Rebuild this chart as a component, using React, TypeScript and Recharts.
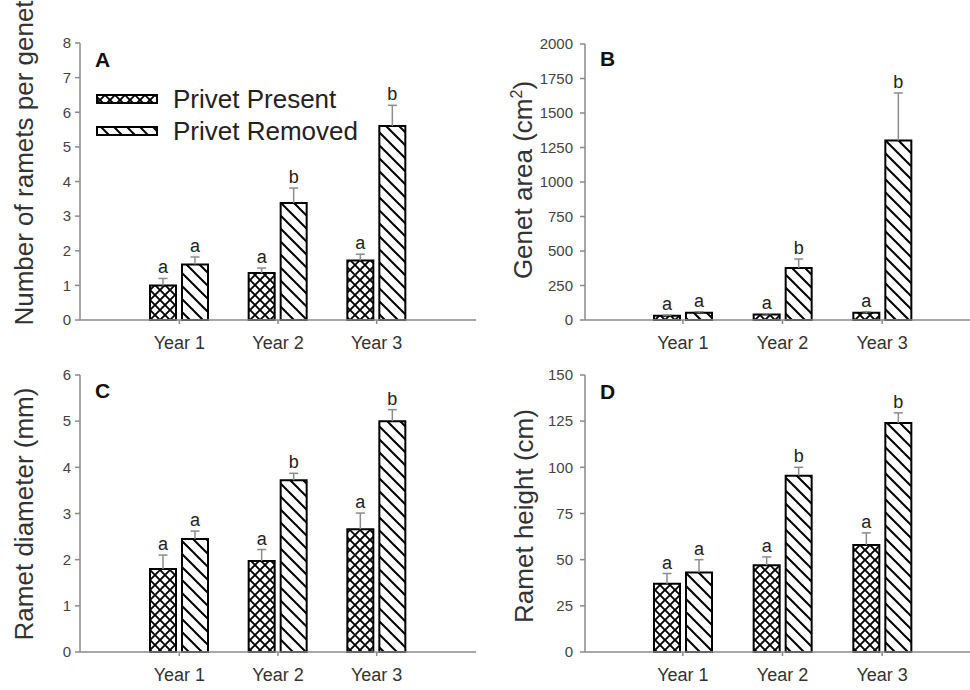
import React from 'react';
import { BarChart, Bar, XAxis, YAxis, LabelList, Label } from 'recharts';

const years = ['Year 1', 'Year 2', 'Year 3'];
const seriesNames = ['Privet Present', 'Privet Removed'];

// A: ramets per genet
const rametsPresent = [1.0, 1.36, 1.72];
const rametsPresentErr = [0.2, 0.14, 0.18];
const rametsRemoved = [1.6, 3.38, 5.6];
const rametsRemovedErr = [0.22, 0.43, 0.6];

// B: genet area
const areaPresent = [30, 40, 52];
const areaPresentErr = [6, 6, 8];
const areaRemoved = [52, 377, 1300];
const areaRemovedErr = [8, 65, 345];

// C: ramet diameter
const diamPresent = [1.8, 1.97, 2.66];
const diamPresentErr = [0.3, 0.25, 0.35];
const diamRemoved = [2.45, 3.72, 5.0];
const diamRemovedErr = [0.17, 0.15, 0.25];

// D: ramet height
const heightPresent = [37, 47, 58];
const heightPresentErr = [5.5, 4.5, 6.5];
const heightRemoved = [43, 95.5, 124];
const heightRemovedErr = [7, 4.5, 5.5];

const presentLetters = ['a', 'a', 'a'];
const removedLetters = ['a', 'b', 'b'];

const FONT = '"Liberation Sans", Arial, sans-serif';
const AXIS = '#8a8a8a';
const INK = '#333';
const fills = ['url(#crossHatch)', 'url(#diagHatch)'];

type Panel = {
  key: string;
  letter: string;
  left: number;
  top: number;
  marginTop: number;
  plotBottom: number;
  yWidth: number;
  marginRight: number;
  pad: number;
  padRight: number;
  ticks: number[];
  tickGap: number;
  title: React.ReactNode;
  titleX: number;
  titleY: number;
  letterX: number;
  letterY: number;
  legend?: boolean;
  present: number[];
  presentErr: number[];
  removed: number[];
  removedErr: number[];
};

const CHART_H = 370;

const panels: Panel[] = [
  {
    key: 'A', letter: 'A', left: 0, top: 0, marginTop: 43, plotBottom: 320, yWidth: 80, marginRight: 9,
    pad: 50, padRight: 50, ticks: [0, 1, 2, 3, 4, 5, 6, 7, 8], tickGap: 4,
    title: 'Number of ramets per genet', titleX: 33, titleY: 163, letterX: 95, letterY: 67, legend: true,
    present: rametsPresent, presentErr: rametsPresentErr, removed: rametsRemoved, removedErr: rametsRemovedErr,
  },
  {
    key: 'B', letter: 'B', left: 485, top: 0, marginTop: 44, plotBottom: 320, yWidth: 100, marginRight: 0,
    pad: 48, padRight: 38, ticks: [0, 250, 500, 750, 1000, 1250, 1500, 1750, 2000], tickGap: 7,
    title: (
      <>
        Genet area (cm<tspan fontSize={16} dy={-10}>2</tspan>
        <tspan dy={10}>)</tspan>
      </>
    ),
    titleX: 532, titleY: 180, letterX: 600, letterY: 66,
    present: areaPresent, presentErr: areaPresentErr, removed: areaRemoved, removedErr: areaRemovedErr,
  },
  {
    key: 'C', letter: 'C', left: 0, top: 320, marginTop: 55, plotBottom: 652, yWidth: 80, marginRight: 9,
    pad: 50, padRight: 50, ticks: [0, 1, 2, 3, 4, 5, 6], tickGap: 4,
    title: 'Ramet diameter (mm)', titleX: 33, titleY: 514, letterX: 95, letterY: 398,
    present: diamPresent, presentErr: diamPresentErr, removed: diamRemoved, removedErr: diamRemovedErr,
  },
  {
    key: 'D', letter: 'D', left: 485, top: 320, marginTop: 55, plotBottom: 652, yWidth: 100, marginRight: 0,
    pad: 48, padRight: 38, ticks: [0, 25, 50, 75, 100, 125, 150], tickGap: 7,
    title: 'Ramet height (cm)', titleX: 533, titleY: 516, letterX: 600, letterY: 399,
    present: heightPresent, presentErr: heightPresentErr, removed: heightRemoved, removedErr: heightRemovedErr,
  },
];

// error whisker (upward only) plus significance letter, sized from the bar's own scale
const errLabel = (errs: number[], letters: string[]) => (props: any) => {
  const { x, y, width, height, value, index } = props;
  if (value == null || !height) return null;
  const pxPerUnit = height / value;
  const top = y - errs[index] * pxPerUnit;
  const cx = x + width / 2;
  return (
    <g>
      <line x1={cx} y1={y} x2={cx} y2={top} stroke="#8c8c8c" strokeWidth={1.5} />
      <line x1={cx - 4.5} y1={top} x2={cx + 4.5} y2={top} stroke="#8c8c8c" strokeWidth={1.5} />
      <text x={cx} y={top - 5} textAnchor="middle" fontSize={18} fontFamily={FONT} fill="#222">
        {letters[index]}
      </text>
    </g>
  );
};

const Decorations = ({ p }: { p: Panel }) => {
  const tx = p.titleX - p.left;
  const ty = p.titleY - p.top;
  return (
    <g fontFamily={FONT}>
      <text x={tx} y={ty} transform={`rotate(-90, ${tx}, ${ty})`} textAnchor="middle" fontSize={26} fill={INK}>
        {p.title}
      </text>
      <text x={p.letterX - p.left} y={p.letterY - p.top} fontSize={21} fontWeight="bold" fill="#111">
        {p.letter}
      </text>
      {p.legend &&
        seriesNames.map((name, i) => (
          <g key={name}>
            <rect x={97} y={95 + i * 32 - p.top} width={60} height={8} fill={fills[i]} stroke="#000" strokeWidth={2} />
            <text x={173} y={108 + i * 32 - p.top} fontSize={26} fill="#222">
              {name}
            </text>
          </g>
        ))}
    </g>
  );
};

const PanelChart = ({ p }: { p: Panel }) => {
  const data = years.map((year, i) => ({
    year,
    present: p.present[i],
    removed: p.removed[i],
  }));
  const max = p.ticks[p.ticks.length - 1];
  const xHeight = CHART_H - (p.plotBottom - p.top);
  return (
    <div style={{ position: 'absolute', left: p.left, top: p.top }}>
      <BarChart
        width={485}
        height={CHART_H}
        data={data}
        margin={{ top: p.marginTop, right: p.marginRight, bottom: 0, left: 0 }}
        barSize={26}
        barGap={6}
      >
        <XAxis
          dataKey="year"
          height={xHeight}
          padding={{ left: p.pad, right: p.padRight }}
          stroke={AXIS}
          strokeWidth={1.5}
          tickSize={4}
          tickMargin={12}
          tick={{ fontSize: 18, fill: INK, fontFamily: FONT }}
        />
        <YAxis
          width={p.yWidth}
          domain={[0, max]}
          ticks={p.ticks}
          interval={0}
          stroke={AXIS}
          strokeWidth={1.5}
          tickSize={5}
          tickMargin={p.tickGap}
          tick={{ fontSize: 15, fill: '#444', fontFamily: FONT }}
        >
          <Label content={() => <Decorations p={p} />} />
        </YAxis>
        <Bar dataKey="present" name={seriesNames[0]} fill={fills[0]} stroke="#000" strokeWidth={2} isAnimationActive={false}>
          <LabelList dataKey="present" content={errLabel(p.presentErr, presentLetters)} />
        </Bar>
        <Bar dataKey="removed" name={seriesNames[1]} fill={fills[1]} stroke="#000" strokeWidth={2} isAnimationActive={false}>
          <LabelList dataKey="removed" content={errLabel(p.removedErr, removedLetters)} />
        </Bar>
      </BarChart>
    </div>
  );
};

export default function App() {
  return (
    <div style={{ position: 'absolute', left: 0, top: 0, width: 970, height: 690, background: '#fff', overflow: 'hidden' }}>
      <svg width={0} height={0} style={{ position: 'absolute' }}>
        <defs>
          <pattern id="crossHatch" patternUnits="userSpaceOnUse" width={10} height={10}>
            <rect width={10} height={10} fill="#fff" />
            <path d="M-1,-1 L11,11 M11,-1 L-1,11" stroke="#000" strokeWidth={1.9} />
          </pattern>
          <pattern id="diagHatch" patternUnits="userSpaceOnUse" width={13} height={13}>
            <rect width={13} height={13} fill="#fff" />
            <path d="M-1,-1 L14,14 M-2,11 L2,15 M11,-2 L15,2" stroke="#000" strokeWidth={2} />
          </pattern>
        </defs>
      </svg>
      {panels.map((p) => (
        <PanelChart key={p.key} p={p} />
      ))}
    </div>
  );
}
